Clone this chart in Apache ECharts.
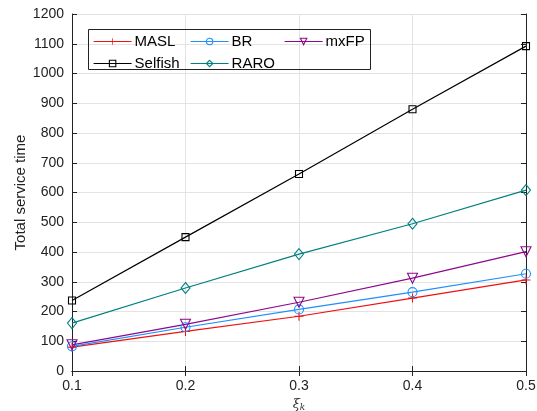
<!DOCTYPE html>
<html>
<head>
<meta charset="utf-8">
<script src="https://cdn.jsdelivr.net/npm/echarts@6/dist/echarts.min.js"></script>
<style>
  html, body { margin: 0; padding: 0; background: #fff; }
  #chart { width: 537px; height: 411px; }
</style>
</head>
<body>
<div id="chart"></div>
<script>
const xValues = [0.1, 0.2, 0.3, 0.4, 0.5];
const masl = [80, 133, 184, 245, 306];
const br = [83, 147, 207, 265, 327];
const mxfp = [88, 157, 231, 312, 401];
const selfish = [237, 450, 662, 880, 1092];
const raro = [161, 279, 393, 495, 608];

const font = "Liberation Sans, Arial, sans-serif";
const plus = "path://M4,0h1v4h4v1h-4v4h-1v-4h-4v-1h4z";
const clear = "rgba(255,255,255,0)";

const chart = echarts.init(document.getElementById("chart"));

function pairs(ys) {
  return xValues.map((x, i) => [x, ys[i]]);
}

// open markers: transparent face, thin coloured edge
function makeSeries(name, ys, color, symbol, size, extra) {
  return Object.assign({
    name: name,
    type: "line",
    data: pairs(ys),
    symbol: symbol,
    symbolSize: size,
    showAllSymbol: true,
    lineStyle: { color: color, width: 1.2 },
    itemStyle: { color: clear, borderColor: color, borderWidth: 1.1 },
    emphasis: { disabled: true },
    z: 3
  }, extra || {});
}

function openItem(name, color) {
  return { name: name, itemStyle: { color: clear, borderColor: color, borderWidth: 1.1 } };
}

const legendBase = {
  orient: "vertical",
  padding: 0,
  itemWidth: 38,
  itemHeight: 8,
  itemGap: 7,
  lineStyle: { width: 1.2 },
  textStyle: { fontFamily: font, fontSize: 15, lineHeight: 12, color: "#000", padding: [0, 0, 0, -2] },
  selectedMode: false
};

chart.setOption({
  animation: false,
  grid: { left: 72, right: 11, top: 14, bottom: 40, containLabel: false, outerBoundsMode: "none" },
  legend: [
    Object.assign({}, legendBase, { left: 93, top: 34, data: ["MASL", openItem("Selfish", "#000000")] }),
    Object.assign({}, legendBase, { left: 190, top: 34, data: [openItem("BR", "#1e8fff"), openItem("RARO", "#008080")] }),
    Object.assign({}, legendBase, { left: 284, top: 34, data: [openItem("mxFP", "#8b0a8b")] })
  ],
  graphic: [{
    type: "rect",
    shape: { x: 88.5, y: 29.5, width: 282, height: 40 },
    style: { fill: null, stroke: "#222", lineWidth: 1 },
    z: 1
  }],
  xAxis: [{
    type: "value",
    min: 0.1,
    max: 0.5,
    interval: 0.1,
    name: "{i|ξ}{s|k}",
    nameLocation: "middle",
    nameGap: 24,
    nameTextStyle: {
      rich: {
        i: { fontFamily: "DejaVu Serif, serif", fontStyle: "italic", fontSize: 13, color: "#333" },
        s: { fontFamily: "DejaVu Serif, serif", fontStyle: "italic", fontSize: 9, color: "#333", verticalAlign: "bottom", padding: [6, 0, 0, 0] }
      }
    },
    axisLine: { show: true, lineStyle: { color: "#222", width: 1 } },
    axisTick: { inside: true, length: 5, lineStyle: { color: "#222" } },
    axisLabel: { formatter: v => v.toFixed(1), fontFamily: font, fontSize: 14, color: "#222", margin: 8 },
    splitLine: { show: true, lineStyle: { color: "#e3e3e3", width: 1 } }
  }, {
    type: "value",
    position: "top",
    min: 0.1,
    max: 0.5,
    interval: 0.1,
    axisLine: { show: true, lineStyle: { color: "#222", width: 1 } },
    axisTick: { inside: true, length: 5, lineStyle: { color: "#222" } },
    axisLabel: { show: false },
    splitLine: { show: false }
  }],
  yAxis: [{
    type: "value",
    min: 0,
    max: 1200,
    interval: 100,
    name: "Total service time",
    nameLocation: "middle",
    nameGap: 44,
    nameMoveOverlap: false,
    nameTextStyle: { fontFamily: font, fontSize: 15, color: "#222" },
    axisLine: { show: true, lineStyle: { color: "#222", width: 1 } },
    axisTick: { show: true, inside: true, length: 5, lineStyle: { color: "#222" } },
    axisLabel: { formatter: v => String(v), fontFamily: font, fontSize: 14, color: "#222", margin: 8 },
    splitLine: { show: true, lineStyle: { color: "#e3e3e3", width: 1 } }
  }, {
    type: "value",
    position: "right",
    min: 0,
    max: 1200,
    interval: 100,
    axisLine: { show: true, lineStyle: { color: "#222", width: 1 } },
    axisTick: { show: true, inside: true, length: 5, lineStyle: { color: "#222" } },
    axisLabel: { show: false },
    splitLine: { show: false }
  }],
  series: [
    makeSeries("MASL", masl, "#f01010", plus, 9, {
      itemStyle: { color: "#f01010", borderWidth: 0 }
    }),
    makeSeries("Selfish", selfish, "#000000", "rect", 7),
    makeSeries("BR", br, "#1e8fff", "circle", 9),
    makeSeries("RARO", raro, "#008080", "diamond", [9, 11]),
    makeSeries("mxFP", mxfp, "#8b0a8b", "triangle", 10, { symbolRotate: 180 })
  ]
});
</script>
</body>
</html>
